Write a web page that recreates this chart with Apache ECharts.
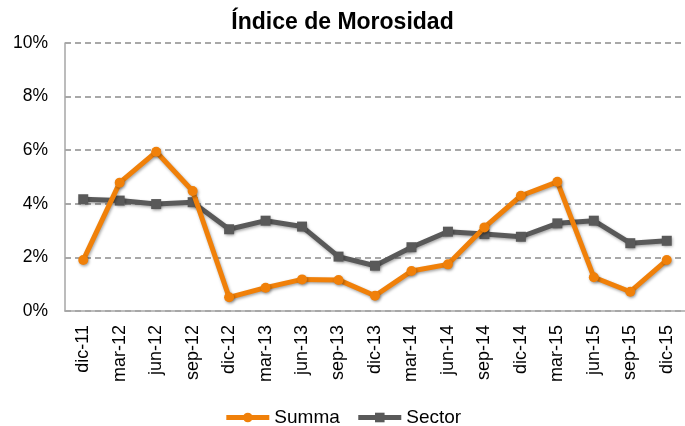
<!DOCTYPE html>
<html>
<head>
<meta charset="utf-8">
<script src="https://cdn.jsdelivr.net/npm/echarts@6/dist/echarts.min.js"></script>
<style>
  html, body { margin: 0; padding: 0; background: #fff; }
  #chart { width: 685px; height: 426px; }
</style>
</head>
<body>
<div id="chart"></div>
<script>
const categories = ['dic-11', 'mar-12', 'jun-12', 'sep-12', 'dic-12', 'mar-13', 'jun-13', 'sep-13', 'dic-13',
  'mar-14', 'jun-14', 'sep-14', 'dic-14', 'mar-15', 'jun-15', 'sep-15', 'dic-15']
// valores en %
const summa = [1.9, 4.79, 5.94, 4.48, 0.51, 0.87, 1.18, 1.16, 0.57, 1.49, 1.74, 3.12, 4.3, 4.82, 1.26, 0.72, 1.9]
const sector = [4.17, 4.12, 3.99, 4.06, 3.05, 3.37, 3.15, 2.03, 1.69, 2.38, 2.96, 2.87, 2.77, 3.27, 3.37, 2.53, 2.62]

const font = 'Liberation Sans, Arial, sans-serif'
const chart = echarts.init(document.getElementById('chart'))

const shadow = { shadowBlur: 3, shadowColor: 'rgba(0,0,0,0.35)', shadowOffsetX: 1, shadowOffsetY: 1.5 }

const option = {
  backgroundColor: '#fff',
  animation: false,
  title: {
    text: 'Índice de Morosidad',
    left: 'center',
    top: 6,
    textStyle: { fontFamily: font, fontSize: 23, fontWeight: 'bold', color: '#000' },
  },
  grid: {
    left: 65,
    top: 43,
    width: 625.6,
    height: 268,
  },
  legend: {
    top: 403,
    left: 'center',
    itemWidth: 43,
    itemHeight: 12,
    itemGap: 16,
    lineStyle: { width: 5 },
    textStyle: { fontFamily: font, fontSize: 19, color: '#000' },
    data: ['Summa', 'Sector'],
  },
  xAxis: {
    type: 'category',
    data: categories,
    boundaryGap: true,
    axisLine: { lineStyle: { color: '#a6a6a6', width: 1.5 } },
    axisTick: { show: false },
    axisLabel: {
      rotate: 90,
      margin: 14,
      interval: 0,
      fontFamily: font,
      fontSize: 18,
      color: '#000',
    },
  },
  yAxis: {
    type: 'value',
    min: 0,
    max: 10,
    interval: 2,
    axisLine: { show: true, lineStyle: { color: '#a6a6a6', width: 1.5 } },
    axisTick: { show: false },
    axisLabel: {
      margin: 17,
      fontFamily: font,
      fontSize: 17.5,
      color: '#000',
      formatter: '{value}%',
    },
    splitLine: { lineStyle: { color: '#8c8c8c', width: 1.5, type: [6, 4] } },
  },
  series: [
    {
      name: 'Summa',
      type: 'line',
      data: summa,
      symbol: 'circle',
      symbolSize: 10,
      color: '#f08009',
      lineStyle: Object.assign({ width: 5, color: '#f08009' }, shadow),
      itemStyle: Object.assign({ color: '#f08009' }, shadow),
      z: 3,
    },
    {
      name: 'Sector',
      type: 'line',
      data: sector,
      symbol: 'rect',
      symbolSize: 10,
      color: '#595959',
      lineStyle: Object.assign({ width: 5, color: '#595959' }, shadow),
      itemStyle: Object.assign({ color: '#595959' }, shadow),
      z: 2,
    },
  ],
}
chart.setOption(option)
</script>
</body>
</html>
